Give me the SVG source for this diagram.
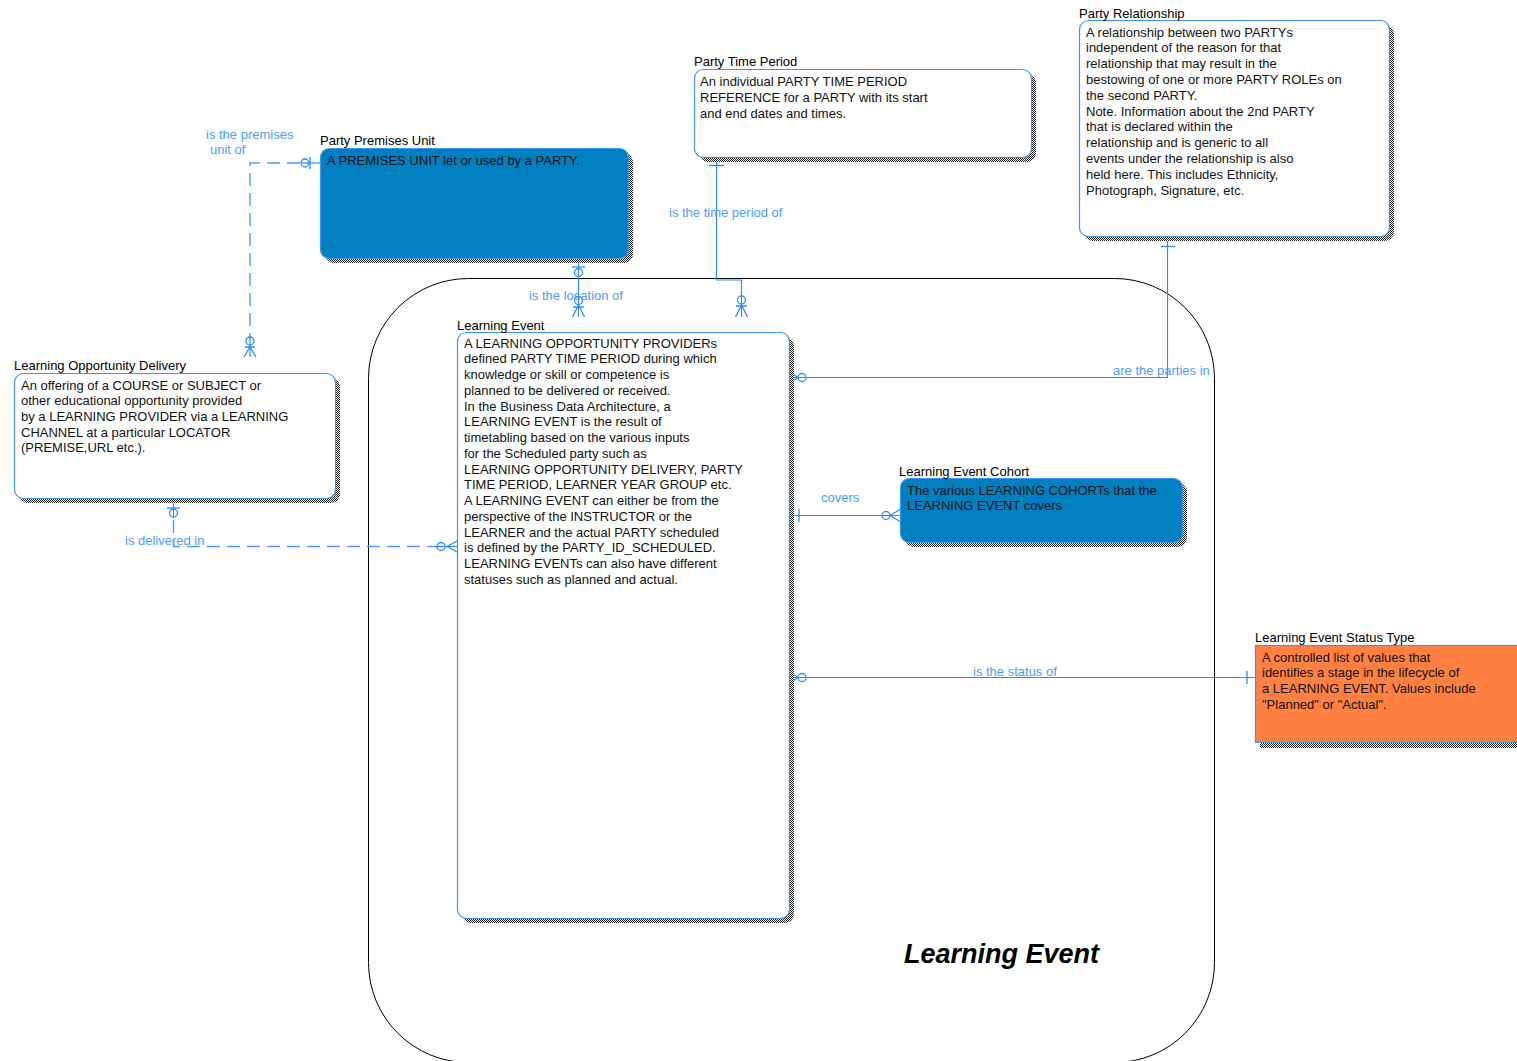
<svg xmlns="http://www.w3.org/2000/svg" width="1517" height="1061" viewBox="0 0 1517 1061">
<defs>
<pattern id="dither" width="2" height="2" patternUnits="userSpaceOnUse">
<rect width="2" height="2" fill="#ffffff"/>
<rect x="0" y="0" width="1" height="1" fill="#1a1a1a"/>
<rect x="1" y="1" width="1" height="1" fill="#1a1a1a"/>
</pattern>
</defs>
<style>
.area{fill:#ffffff;stroke:#000000;stroke-width:1}
.shadow{fill:url(#dither);stroke:none}
.ent{fill:#ffffff;stroke:#3d95f5;stroke-width:1.2}
.blue{fill:#0080c0;stroke:#3d95f5;stroke-width:1.2}
.orange{fill:#ff8040;stroke:#3d95f5;stroke-width:1.2}
.name{font-family:"Liberation Sans",Arial,sans-serif;font-size:13px;fill:#000000}
.body{font-family:"Liberation Sans",Arial,sans-serif;font-size:13px;fill:#111111}
.lbl{font-family:"Liberation Sans",Arial,sans-serif;font-size:13px;fill:#4a9dff}
.ln{fill:none;stroke:#2f8cf5;stroke-width:1.2}
.dash{fill:none;stroke:#4a9dff;stroke-width:1.4;stroke-dasharray:13 7}
.sym{fill:none;stroke:#2f8cf5;stroke-width:1.3}
.title{font-family:"Liberation Sans",Arial,sans-serif;font-size:27px;font-weight:bold;font-style:italic;fill:#000000}
</style>
<rect width="1517" height="1061" fill="#ffffff"/>
<g id="subject-area">
<rect class="area" x="368.5" y="278.5" width="846" height="784" rx="100" ry="100"/>
<text class="title" x="904" y="963">Learning Event</text>
</g>
<g id="connectors">
<!-- premises unit - learning opportunity delivery -->
<path class="ln" d="M320,163 H301"/>
<path class="dash" d="M300,163 H250 V337"/>
<path class="sym" d="M310,157 V169"/>
<circle class="sym" cx="305" cy="163" r="4"/>
<path class="ln" d="M250,337 V357"/>
<circle class="sym" cx="250" cy="341" r="4"/>
<path class="sym" d="M250,347 L244,357 M250,347 L256,357 M245,347 H255"/>
<text class="lbl" x="206" y="138.5">is the premises</text>
<text class="lbl" x="210" y="153.5">unit of</text>
<!-- premises unit - learning event -->
<path class="ln" d="M578.5,258 V317"/>
<path class="sym" d="M572,267 H585"/>
<circle class="sym" cx="578.5" cy="272.5" r="4"/>
<circle class="sym" cx="578.5" cy="300.5" r="4"/>
<path class="sym" d="M578.5,305 L572.5,317 M578.5,305 L584.5,317 M573,307 H584"/>
<text class="lbl" x="529" y="299.5">is the location of</text>
<!-- party time period - learning event -->
<path class="ln" d="M716.5,157 V280 H741.5 V317"/>
<path class="sym" d="M709,165.5 H724"/>
<circle class="sym" cx="741.5" cy="300" r="4"/>
<path class="sym" d="M741.5,305 L735.5,317 M741.5,305 L747.5,317 M736,306 H747"/>
<text class="lbl" x="669" y="216.5">is the time period of</text>
<!-- party relationship - learning event -->
<path class="ln" d="M1167.5,236 V377.5 H789"/>
<path class="sym" d="M1161,246.5 H1175"/>
<path class="sym" d="M798,377.5 L790,372 M798,377.5 L790,383"/>
<circle class="sym" cx="802" cy="377.5" r="4"/>
<text class="lbl" x="1113" y="375">are the parties in</text>
<!-- learning event - cohort -->
<path class="ln" d="M789,515.5 H900"/>
<path class="sym" d="M799,509 V522"/>
<circle class="sym" cx="886" cy="515.5" r="4"/>
<path class="sym" d="M890,515.5 L900,509.5 M890,515.5 L900,521.5"/>
<text class="lbl" x="821" y="501.5">covers</text>
<!-- learning opportunity delivery - learning event -->
<path class="ln" d="M173.5,498 V518"/>
<path class="dash" d="M173.5,520 V546.5 H437"/>
<path class="sym" d="M167,508 H180"/>
<circle class="sym" cx="173.5" cy="513" r="4"/>
<path class="ln" d="M437,546.5 H457"/>
<circle class="sym" cx="441" cy="546.5" r="4"/>
<path class="sym" d="M447,546.5 L457,541 M447,546.5 L457,552"/>
<text class="lbl" x="125" y="544.5">is delivered in</text>
<!-- status type - learning event -->
<path class="ln" d="M789,677.5 H1255"/>
<path class="sym" d="M798,677.5 L790,672 M798,677.5 L790,683"/>
<circle class="sym" cx="802" cy="677.5" r="4"/>
<path class="sym" d="M1247,671 V684"/>
<text class="lbl" x="973" y="676">is the status of</text>
</g>
<g id="party-premises-unit">
<rect class="shadow" x="325" y="153" width="308" height="110" rx="9"/>
<rect class="blue" x="320.5" y="148.5" width="308" height="110" rx="9"/>
<text class="name" x="320" y="145">Party Premises Unit</text>
<text class="body" x="327" y="164.5">A PREMISES UNIT let or used by a PARTY.</text>
</g>
<g id="party-time-period">
<rect class="shadow" x="699" y="74" width="337" height="88" rx="9"/>
<rect class="ent" x="694.5" y="69.5" width="337" height="88" rx="9"/>
<text class="name" x="694" y="66">Party Time Period</text>
<text class="body" x="700" y="85.5">An individual PARTY TIME PERIOD</text>
<text class="body" x="700" y="101.5">REFERENCE for a PARTY with its start</text>
<text class="body" x="700" y="117.5">and end dates and times.</text>
</g>
<g id="party-relationship">
<rect class="shadow" x="1084" y="25" width="310" height="216" rx="9"/>
<rect class="ent" x="1079.5" y="20.5" width="310" height="216" rx="9"/>
<text class="name" x="1079" y="17.5">Party Relationship</text>
<text class="body" x="1086" y="36.5">A relationship between two PARTYs</text>
<text class="body" x="1086" y="52.3">independent of the reason for that</text>
<text class="body" x="1086" y="68.1">relationship that may result in the</text>
<text class="body" x="1086" y="83.9">bestowing of one or more PARTY ROLEs on</text>
<text class="body" x="1086" y="99.7">the second PARTY.</text>
<text class="body" x="1086" y="115.5">Note. Information about the 2nd PARTY</text>
<text class="body" x="1086" y="131.3">that is declared within the</text>
<text class="body" x="1086" y="147.1">relationship and is generic to all</text>
<text class="body" x="1086" y="162.9">events under the relationship is also</text>
<text class="body" x="1086" y="178.7">held here. This includes Ethnicity,</text>
<text class="body" x="1086" y="194.5">Photograph, Signature, etc.</text>
</g>
<g id="learning-opportunity-delivery">
<rect class="shadow" x="19" y="378" width="321" height="125" rx="9"/>
<rect class="ent" x="14.5" y="373.5" width="321" height="125" rx="9"/>
<text class="name" x="14" y="369.5">Learning Opportunity Delivery</text>
<text class="body" x="21" y="389.5">An offering of a COURSE or SUBJECT or</text>
<text class="body" x="21" y="405.2">other educational opportunity provided</text>
<text class="body" x="21" y="420.9">by a LEARNING PROVIDER via a LEARNING</text>
<text class="body" x="21" y="436.6">CHANNEL at a particular LOCATOR</text>
<text class="body" x="21" y="452.3">(PREMISE,URL etc.).</text>
</g>
<g id="learning-event">
<rect class="shadow" x="462" y="337" width="332" height="586" rx="9"/>
<rect class="ent" x="457.5" y="332.5" width="332" height="586" rx="9"/>
<text class="name" x="457" y="329.5">Learning Event</text>
<text class="body" x="464" y="347.5">A LEARNING OPPORTUNITY PROVIDERs</text>
<text class="body" x="464" y="363.3">defined PARTY TIME PERIOD during which</text>
<text class="body" x="464" y="379">knowledge or skill or competence is</text>
<text class="body" x="464" y="394.8">planned to be delivered or received.</text>
<text class="body" x="464" y="410.5">In the Business Data Architecture, a</text>
<text class="body" x="464" y="426.3">LEARNING EVENT is the result of</text>
<text class="body" x="464" y="442">timetabling based on the various inputs</text>
<text class="body" x="464" y="457.8">for the Scheduled party such as</text>
<text class="body" x="464" y="473.5">LEARNING OPPORTUNITY DELIVERY, PARTY</text>
<text class="body" x="464" y="489.3">TIME PERIOD, LEARNER YEAR GROUP etc.</text>
<text class="body" x="464" y="505">A LEARNING EVENT can either be from the</text>
<text class="body" x="464" y="520.8">perspective of the INSTRUCTOR or the</text>
<text class="body" x="464" y="536.5">LEARNER and the actual PARTY scheduled</text>
<text class="body" x="464" y="552.3">is defined by the PARTY_ID_SCHEDULED.</text>
<text class="body" x="464" y="568">LEARNING EVENTs can also have different</text>
<text class="body" x="464" y="583.8">statuses such as planned and actual.</text>
</g>
<g id="learning-event-cohort">
<rect class="shadow" x="905" y="483" width="282" height="64" rx="9"/>
<rect class="blue" x="900.5" y="478.5" width="282" height="64" rx="9"/>
<text class="name" x="899" y="475.5">Learning Event Cohort</text>
<text class="body" x="907" y="494.5">The various LEARNING COHORTs that the</text>
<text class="body" x="907" y="510.3">LEARNING EVENT covers</text>
</g>
<g id="learning-event-status-type">
<rect class="shadow" x="1260" y="650" width="270" height="98"/>
<rect class="orange" x="1255.5" y="645.5" width="270" height="97"/>
<text class="name" x="1255" y="641.5">Learning Event Status Type</text>
<text class="body" x="1262" y="661.5">A controlled list of values that</text>
<text class="body" x="1262" y="677.2">identifies a stage in the lifecycle of</text>
<text class="body" x="1262" y="692.9">a LEARNING EVENT. Values include</text>
<text class="body" x="1262" y="708.6">"Planned" or "Actual".</text>
</g>
</svg>
